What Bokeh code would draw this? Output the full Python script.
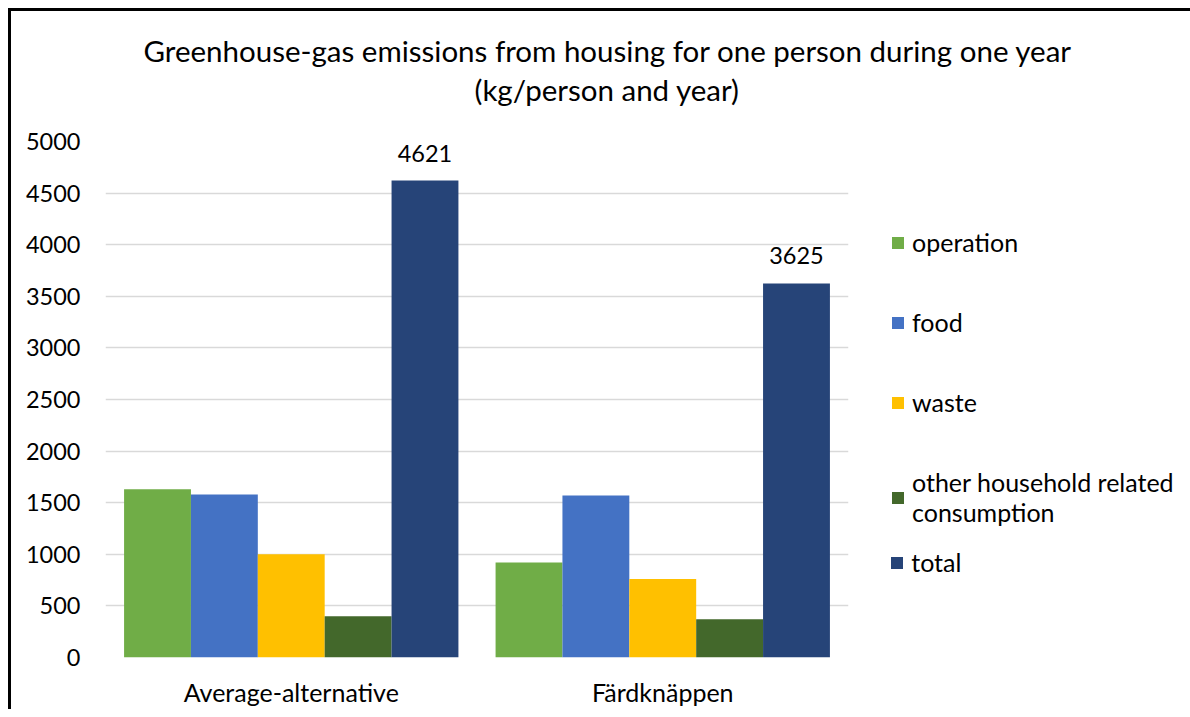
from bokeh.plotting import figure
from bokeh.models import (ColumnDataSource, FactorRange, FixedTicker, LabelSet,
                          Legend, LegendItem, Title)
from bokeh.core.properties import value
from bokeh.transform import dodge
from bokeh.embed import file_html
from bokeh.resources import INLINE

# ---- data ----
categories = ["Average-alternative", "Färdknäppen"]
operation = [1630, 920]
food = [1580, 1570]
waste = [1000, 760]
other = [400, 370]
total = [4621, 3625]
series_names = ["operation", "food", "waste", "other household related\nconsumption", "total"]
series_keys = ["operation", "food", "waste", "other", "total"]
series_colors = ["#70AD47", "#4472C4", "#FFC000", "#43682B", "#264478"]
y_ticks = [0, 500, 1000, 1500, 2000, 2500, 3000, 3500, 4000, 4500, 5000]
title_line1 = "Greenhouse-gas emissions from housing for one person during one year"
title_line2 = "(kg/person and year)"

FONT = "Lato"

source = ColumnDataSource(data=dict(
    cats=categories, operation=operation, food=food, waste=waste, other=other,
    total=total, total_label=[str(v) for v in total]))

p = figure(frame_width=743, frame_height=516, x_range=FactorRange(factors=categories),
           y_range=(0, 5000), output_backend="svg", toolbar_location=None,
           min_border_left=94, min_border_right=0, min_border_top=130,
           min_border_bottom=0)
p.x_range.range_padding = 0
p.styles = {"border-top": "3px solid black", "border-left": "3px solid black",
            "margin-top": "8px", "margin-left": "8px"}
p.outline_line_color = None
p.background_fill_color = "white"

bar_w = 0.18
offsets = [-0.36, -0.18, 0.0, 0.18, 0.36]
renderers = []
for key, off, col in zip(series_keys, offsets, series_colors):
    r = p.vbar(x=dodge("cats", off, range=p.x_range), top=key, width=bar_w,
               source=source, fill_color=col, line_color=None)
    renderers.append(r)

# axes
p.yaxis.ticker = FixedTicker(ticks=y_ticks)
p.yaxis.axis_line_color = None
p.yaxis.major_tick_line_color = None
p.yaxis.minor_tick_line_color = None
p.yaxis.major_tick_out = 0
p.yaxis.major_label_standoff = 25
p.yaxis.major_label_text_font = FONT
p.yaxis.major_label_text_font_size = "23.5px"
p.yaxis.major_label_text_color = "black"

p.xaxis.axis_line_color = None
p.xaxis.major_tick_line_color = None
p.xaxis.major_tick_out = 0
p.xaxis.major_label_standoff = 19
p.xaxis.major_label_text_font = FONT
p.xaxis.major_label_text_font_size = "25px"
p.xaxis.major_label_text_color = "black"

p.xgrid.grid_line_color = None
p.ygrid.grid_line_color = "#d9d9d9"
p.ygrid.grid_line_width = 1.5

# data labels on total
labels = LabelSet(x=dodge("cats", 0.36, range=p.x_range), y="total", text="total_label",
                  source=source, text_align="center", text_baseline="alphabetic",
                  y_offset=19, text_font=value(FONT), text_font_size="23.5px",
                  text_color="black")
p.add_layout(labels)

# title (two lines, closest first)
t2 = Title(text=title_line2, align="left", offset=369, text_font=FONT,
           text_font_size="29.5px", text_font_style="normal", text_color="black",
           standoff=69)
t1 = Title(text=title_line1, align="left", offset=38, text_font=FONT,
           text_font_size="29.5px", text_font_style="normal", text_color="black",
           standoff=-64)
p.add_layout(t2, "above")
p.add_layout(t1, "above")

common = dict(orientation="vertical", glyph_width=15, glyph_height=15, label_standoff=7,
              label_text_font=FONT, label_text_font_size="25px", label_height=30,
              label_text_color="black", label_text_line_height=1.28,
              padding=0, margin=0, spacing=50,
              border_line_color=None, background_fill_alpha=0)
legend_main = Legend(items=[LegendItem(label=n, renderers=[r])
                            for n, r in zip(series_names[:4], renderers[:4])],
                     location=(42, 130), **common)
legend_total = Legend(items=[LegendItem(label=series_names[4], renderers=[renderers[4]])],
                      location=(42 - 771, 80), **common)
p.add_layout(legend_main, "right")
p.add_layout(legend_total, "right")

open("out.html", "w").write(file_html(p, INLINE))
